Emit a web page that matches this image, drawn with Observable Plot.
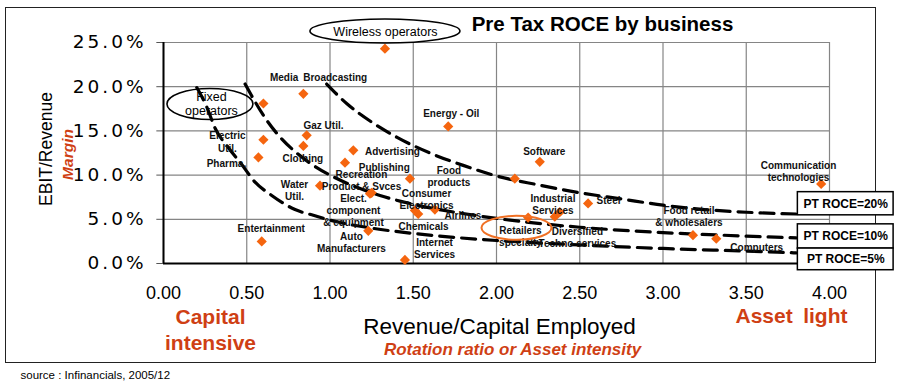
<!DOCTYPE html>
<html><head><meta charset="utf-8">
<script src="https://cdn.jsdelivr.net/npm/d3@7"></script>
<script src="https://cdn.jsdelivr.net/npm/@observablehq/plot@0.6"></script>
<style>
body{margin:0;background:#fff;width:900px;height:387px;overflow:hidden;position:relative;font-family:"Liberation Sans",Arial,sans-serif}
#frame{position:absolute;left:5px;top:7px;width:871px;height:356px;border:1.5px solid #222;box-sizing:border-box}
#chart{position:absolute;left:0;top:0}
</style></head><body>
<div id="frame"></div><div id="chart"></div>
<script>
// ---- data ----
const businesses = ["Wireless operators","Media Broadcasting","Fixed operators","Gaz Util.","Electric Util.","Clothing","Pharma.","Advertising","Publishing","Food products","Recreation Product & Svces","Elect. component & equipment","Water Util.","Auto Manufacturers","Entertainment","Internet Services","Energy - Oil","Software","(unlabelled)","Industrial Services","Diversified Techno services","Steel","Consumer Electronics","Airlines","Chemicals","Retailers specialty","Food retail & wholesalers","Computers","Communication technologies"];
const rotation = [1.33,0.84,0.60,0.86,0.60,0.84,0.57,1.14,1.09,1.48,1.25,1.24,0.94,1.23,0.59,1.45,1.71,2.26,2.11,2.38,2.35,2.55,1.53,1.63,1.51,2.19,3.18,3.32,3.95];
const marginPct = [24.3,19.2,18.1,14.5,14.0,13.3,12.0,12.8,11.4,9.6,8.0,7.9,8.8,3.7,2.5,0.4,15.5,11.5,9.6,5.8,5.3,6.8,5.6,6.1,6.0,5.2,3.2,2.8,9.0];

// point labels (text, anchor in data units)
const labelText = ["Media\u2002Broadcasting","Gaz Util.","Electric\nUtil.","Pharma.","Clothing","Advertising","Publishing","Recreation\nProduct & Svces","Water\nUtil.","Elect.\ncomponent\n& equipment","Auto\nManufacturers","Entertainment","Energy - Oil","Food\nproducts","Consumer\nElectronics","Airlines","Chemicals","Internet\nServices","Software","Industrial\nServices","Steel","Retailers\nspecialty","Diversified\nTechno services","Food retail\n& wholesalers","Computers","Communication\ntechnologies"];
const labelX = [0.931,0.961,0.384,0.378,0.837,1.375,1.326,1.189,0.787,1.141,1.129,0.647,1.728,1.714,1.580,1.798,1.562,1.628,2.287,2.339,2.673,2.144,2.486,3.156,3.563,3.814];
const labelY = [21.1,15.67,13.79,11.39,11.9,12.66,10.89,9.47,8.32,6.01,2.4,3.95,16.98,9.9,7.28,5.45,4.24,1.72,12.77,6.69,7.22,3.08,2.97,5.33,1.87,10.41];

// callouts with ellipses
const calloutText = ["Wireless operators","Fixed\noperators"];
const calloutX = [1.333,0.288];
const calloutY = [26.25,18.1];

// iso-ROCE dashed curves
const c20x = [0.98,1.1,1.25,1.4,1.6,1.8,2.0,2.25,2.5,2.75,3.0,3.25,3.5,3.8];
const c20y = [20.3,18.1,16.0,14.3,12.5,11.1,9.9,8.9,8.0,7.3,6.6,6.1,5.8,5.6];
const c10x = [0.49,0.55,0.62,0.7,0.8,0.9,1.0,1.15,1.3,1.5,1.75,2.0,2.5,3.0,3.5,3.8];
const c10y = [20.3,18.3,16.2,14.3,12.5,11.1,10.0,8.7,7.7,6.7,5.8,5.1,4.1,3.5,3.1,2.9];
const c5x = [0.2,0.26,0.31,0.39,0.47,0.55,0.65,0.79,0.9,1.0,1.25,1.5,2.0,2.5,3.0,3.5,3.8];
const c5y = [19.9,17.7,15.3,13.1,11.2,9.2,7.7,6.1,5.45,4.9,4.0,3.4,2.6,2.1,1.7,1.4,1.2];

const boxLabels = ["PT ROCE=20%","PT ROCE=10%","PT ROCE=5%"];
const boxTop = [8.07,4.43,1.69];
const boxBottom = [5.45,1.69,-0.76];

const xTicks = [0,0.5,1,1.5,2,2.5,3,3.5,4];
const yTicks = [0,5,10,15,20,25];

// ---- build ----
const points = businesses.map((name,i)=>({name, x: rotation[i], y: marginPct[i]}));
const labels = labelText.map((t,i)=>({t, x: labelX[i], y: labelY[i]}));
const callouts = calloutText.map((t,i)=>({t, x: calloutX[i], y: calloutY[i]}));
const curve = (xs,ys)=>xs.map((x,i)=>({x, y: ys[i]}));
const boxes = boxLabels.map((t,i)=>({t, y1: boxTop[i], y2: boxBottom[i], x1: 3.81, x2: 4.385}));

const ML = 163, MT = 42, W = 900, H = 387, MR = 71, MB = 124;
const ORANGE = "#F5650F", RED = "#CF3F14";
const font = "Liberation Sans, Arial, sans-serif";

function note(text, px, py, o = {}) {
  return Plot.text([text], {frameAnchor: "top-left", dx: px - ML, dy: py - MT,
    textAnchor: "middle", lineAnchor: "middle", fontFamily: font, fill: "#000", ...o});
}

function ellipses(items) {
  return (index, scales) => {
    const g = d3.create("svg:g");
    for (const e of items) {
      g.append("ellipse")
        .attr("cx", scales.x(e.x)).attr("cy", scales.y(e.y))
        .attr("rx", e.rx).attr("ry", e.ry)
        .attr("fill", "none").attr("stroke", e.stroke).attr("stroke-width", e.sw);
    }
    return g.node();
  };
}

const dash = {x: "x", y: "y", curve: "monotone-x", stroke: "#000", strokeWidth: 3.2, strokeDasharray: "14,8"};

const chart = Plot.plot({
  width: W, height: H,
  marginLeft: ML, marginRight: MR, marginTop: MT, marginBottom: MB,
  style: {background: "transparent", fontFamily: font},
  x: {domain: [0, 4], axis: null},
  y: {domain: [0, 25], axis: null},
  marks: [
    Plot.ruleX(xTicks, {stroke: "#858585", strokeWidth: 1.2}),
    Plot.ruleY(yTicks, {stroke: "#858585", strokeWidth: 1.2}),
    Plot.ruleY(yTicks, {x1: -0.04, x2: 0, stroke: "#555", strokeWidth: 1}),
    Plot.line(curve(c20x, c20y), dash),
    Plot.line(curve(c10x, c10y), dash),
    Plot.line(curve(c5x, c5y), dash),
    Plot.ruleX([0], {stroke: "#000", strokeWidth: 2}),
    Plot.ruleY([0], {stroke: "#000", strokeWidth: 2}),
    Plot.dot(points, {x: "x", y: "y", symbol: "diamond2", r: 4.6, fill: ORANGE, stroke: "none"}),
    Plot.text(labels, {x: "x", y: "y", text: "t", fontFamily: font, fontWeight: "bold", fontSize: 10, lineHeight: 1.22, fill: "#111"}),
    Plot.text(callouts, {x: "x", y: "y", text: "t", fontFamily: font, fontSize: 12.5, lineHeight: 1.1, fill: "#000"}),
    ellipses([
      {x: 1.333, y: 26.25, rx: 75, ry: 12, stroke: "#000", sw: 1.6},
      {x: 0.282, y: 17.98, rx: 43, ry: 15.5, stroke: "#000", sw: 1.6},
      {x: 2.123, y: 3.98, rx: 35, ry: 12, stroke: "#F07024", sw: 2}
    ]),
    Plot.rect(boxes, {x1: "x1", x2: "x2", y1: "y1", y2: "y2", fill: "#fff", stroke: "#000", strokeWidth: 1.5}),
    Plot.text(boxes, {x: d => (d.x1 + d.x2) / 2, y: d => (d.y1 + d.y2) / 2, text: "t", fontFamily: font, fontWeight: "bold", fontSize: 12, fill: "#000"}),
    Plot.text(yTicks, {x: 0, y: d => d, text: d => d.toFixed(1) + "%", textAnchor: "end", dx: -17, fontFamily: "DejaVu Sans, sans-serif", fontSize: 18.5, fill: "#000"}),
    Plot.text(xTicks, {x: d => d, y: 0, text: d => d.toFixed(2), dy: 30, fontFamily: font, fontSize: 18, fill: "#000"}),
    note("Pre Tax ROCE by business", 602, 23.5, {fontWeight: "bold", fontSize: 20.5}),
    note("EBIT/Revenue", 45.6, 148.5, {rotate: -90, fontSize: 17.5}),
    note("Margin", 68, 154, {rotate: -90, fontSize: 15.5, fontWeight: "bold", fontStyle: "italic", fill: RED}),
    note("Capital\nintensive", 210, 328, {fontSize: 21, fontWeight: "bold", fill: RED, lineHeight: 1.25}),
    note("Asset\u2002light", 791, 316, {fontSize: 21, fontWeight: "bold", fill: RED}),
    note("Revenue/Capital Employed", 499, 326.5, {fontSize: 22.5}),
    note("Rotation ratio or Asset intensity", 512, 349.5, {fontSize: 17, fontWeight: "bold", fontStyle: "italic", fill: RED}),
    note("source : Infinancials, 2005/12", 20, 375, {textAnchor: "start", fontSize: 11.5})
  ]
});
// wide spacing of the y tick labels
d3.select(chart).selectAll("text").filter(function(){ return /^\d+\.0%$/.test(this.textContent); })
  .style("letter-spacing", "3px");
document.getElementById("chart").appendChild(chart);
</script>
</body></html>
